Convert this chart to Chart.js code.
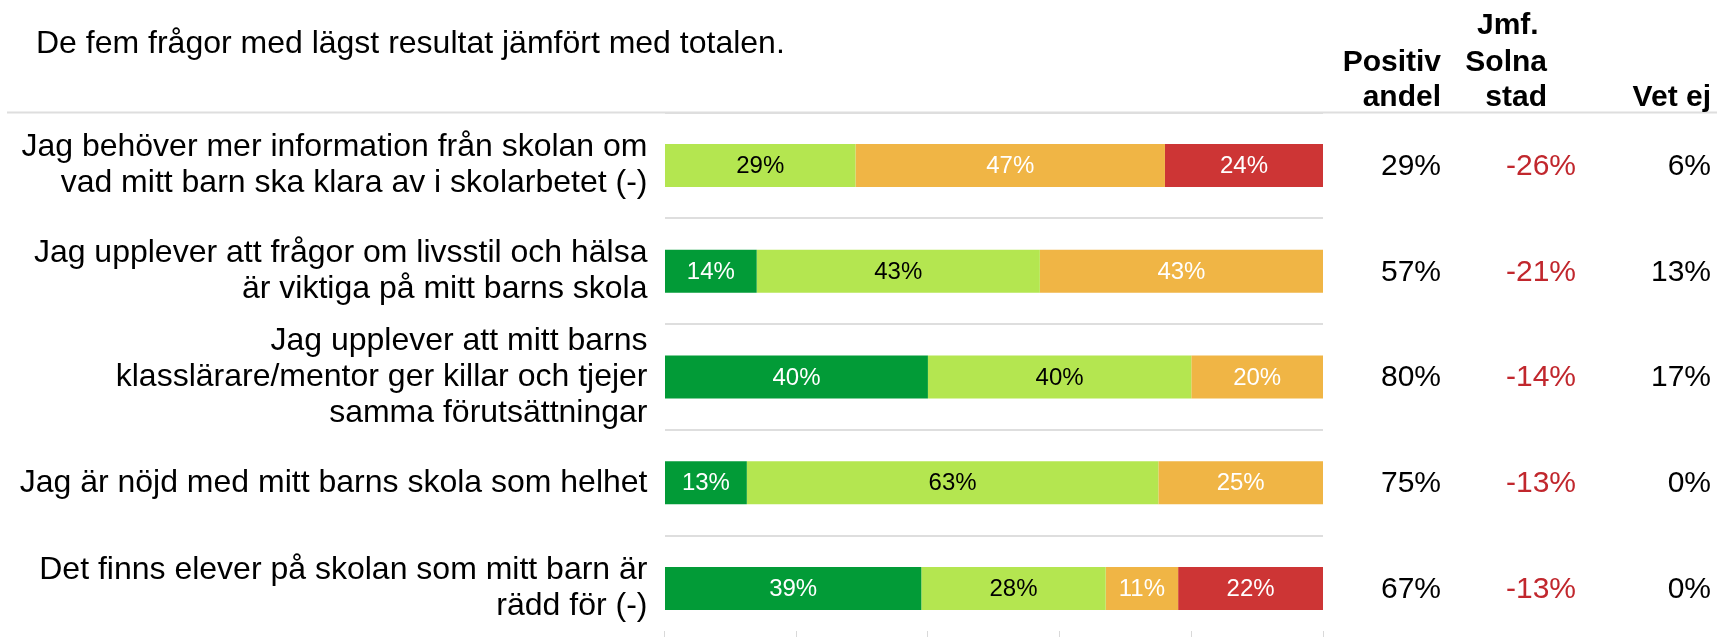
<!DOCTYPE html>
<html>
<head>
<meta charset="utf-8">
<script src="https://cdn.jsdelivr.net/npm/chart.js@4"></script>
<style>
  html, body { margin: 0; padding: 0; background: #fff; overflow: hidden; }
  canvas { display: block; }
</style>
</head>
<body>
<canvas id="chart" width="1717" height="660" style="width:1717px;height:660px"></canvas>
<script>
var title = 'De fem frågor med lägst resultat jämfört med totalen.';
var questions = [
  ['Jag behöver mer information från skolan om', 'vad mitt barn ska klara av i skolarbetet (-)'],
  ['Jag upplever att frågor om livsstil och hälsa', 'är viktiga på mitt barns skola'],
  ['Jag upplever att mitt barns', 'klasslärare/mentor ger killar och tjejer', 'samma förutsättningar'],
  'Jag är nöjd med mitt barns skola som helhet',
  ['Det finns elever på skolan som mitt barn är', 'rädd för (-)']
];
// shares per answer group (percent)
var darkGreen  = [0, 14, 40, 12.5, 39];
var lightGreen = [29, 43, 40, 62.5, 28];
var orange     = [47, 43, 20, 25, 11];
var red        = [24, 0, 0, 0, 22];

var positivAndel = ['29%', '57%', '80%', '75%', '67%'];
var jmfSolna     = ['-26%', '-21%', '-14%', '-13%', '-13%'];
var vetEj        = ['6%', '13%', '17%', '0%', '0%'];
var xTicks = [0, 20, 40, 60, 80, 100];

var FONT = '"Liberation Sans", Arial, sans-serif';

// text on top of the bar segments
var barLabels = {
  id: 'barLabels',
  afterDatasetsDraw: function (chart) {
    var ctx = chart.ctx;
    ctx.save();
    ctx.font = '24px ' + FONT;
    ctx.textAlign = 'center';
    ctx.textBaseline = 'middle';
    chart.data.datasets.forEach(function (ds, i) {
      var meta = chart.getDatasetMeta(i);
      meta.data.forEach(function (bar, j) {
        var v = ds.data[j];
        if (!v) return;
        ctx.fillStyle = ds.labelColor;
        ctx.fillText(Math.round(v) + '%', (bar.x + bar.base) / 2, bar.y + 1);
      });
    });
    ctx.restore();
  }
};

// title, column headers, header rule and the three value columns
var sideTable = {
  id: 'sideTable',
  afterDraw: function (chart) {
    var ctx = chart.ctx;
    var y = chart.scales.y;
    var top = chart.chartArea.top;
    ctx.save();
    ctx.strokeStyle = '#dedede';
    ctx.lineWidth = 2;
    ctx.beginPath();
    ctx.moveTo(7, top);
    ctx.lineTo(chart.width, top);
    ctx.stroke();

    ctx.fillStyle = '#000';
    ctx.textBaseline = 'middle';
    ctx.textAlign = 'left';
    ctx.font = '32px ' + FONT;
    ctx.fillText(title, 36, 44);

    ctx.textAlign = 'right';
    ctx.font = 'bold 30px ' + FONT;
    ctx.fillText('Jmf. ', 1547, 26);
    ctx.fillText('Positiv', 1441, 63);
    ctx.fillText('Solna', 1547, 63);
    ctx.fillText('andel', 1441, 98);
    ctx.fillText('stad', 1547, 98);
    ctx.fillText('Vet ej', 1711, 98);

    ctx.font = '30px ' + FONT;
    questions.forEach(function (q, i) {
      var py = y.getPixelForValue(i) + 1;
      ctx.fillStyle = '#000';
      ctx.fillText(positivAndel[i], 1441, py);
      ctx.fillText(vetEj[i], 1711, py);
      ctx.fillStyle = '#c1272d';
      ctx.fillText(jmfSolna[i], 1576, py);
    });
    ctx.restore();
  }
};

var ctx = document.getElementById('chart').getContext('2d');
var chart = new Chart(ctx, {
  type: 'bar',
  data: {
    labels: questions,
    datasets: [
      { data: darkGreen,  backgroundColor: '#029b37', labelColor: '#fff' },
      { data: lightGreen, backgroundColor: '#b4e650', labelColor: '#000' },
      { data: orange,     backgroundColor: '#f0b545', labelColor: '#fff' },
      { data: red,        backgroundColor: '#cd3535', labelColor: '#fff' }
    ]
  },
  options: {
    indexAxis: 'y',
    responsive: false,
    animation: false,
    devicePixelRatio: 1,
    barPercentage: 0.407,
    categoryPercentage: 1,
    layout: { padding: { left: 0, right: 394, top: 112.6, bottom: 18.6 } },
    plugins: {
      legend: { display: false },
      tooltip: { enabled: false }
    },
    scales: {
      x: {
        stacked: true,
        min: 0,
        max: 100,
        position: { y: 4.4 },
        afterBuildTicks: function (scale) {
          scale.ticks = xTicks.map(function (v) { return { value: v }; });
        },
        border: { display: false },
        grid: { drawOnChartArea: false, drawTicks: true, tickLength: 6, color: '#d9d9d9', lineWidth: 1 },
        ticks: { display: false }
      },
      y: {
        stacked: true,
        afterFit: function (scale) {
          scale.width = 664.5;
          scale.paddingTop = 0;
          scale.paddingBottom = 0;
        },
        border: { display: false },
        grid: { drawTicks: false, color: '#dedede', lineWidth: 2 },
        ticks: {
          autoSkip: false,
          padding: 17,
          color: '#000',
          font: { family: FONT, size: 32, lineHeight: 1.13 }
        }
      }
    }
  },
  plugins: [barLabels, sideTable]
});
</script>
</body>
</html>
